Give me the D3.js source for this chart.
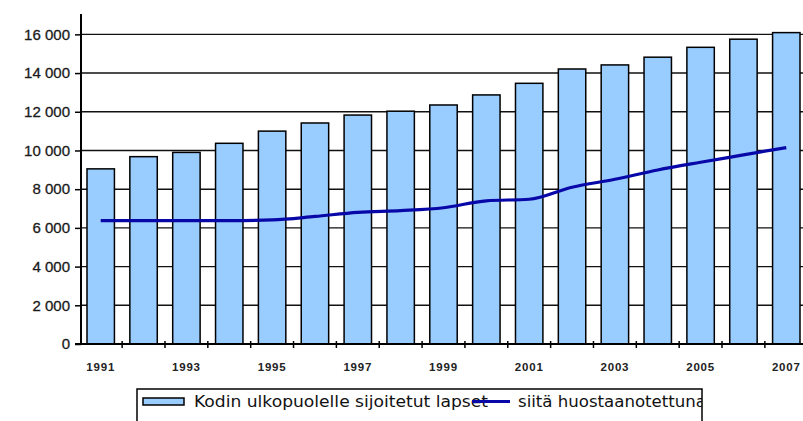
<!DOCTYPE html>
<html>
<head>
<meta charset="utf-8">
<script src="https://cdn.jsdelivr.net/npm/d3@7"></script>
<style>
  body { margin: 0; background: #fff; }
  svg { display: block; font-family: "Liberation Sans", Arial, sans-serif; }
</style>
</head>
<body>
<svg id="chart"></svg>
<script>
const years = [1991, 1992, 1993, 1994, 1995, 1996, 1997, 1998, 1999, 2000,
  2001, 2002, 2003, 2004, 2005, 2006, 2007];
const placed = [9050, 9680, 9900, 10370, 11000, 11420, 11830, 12030, 12350, 12870,
  13470, 14210, 14420, 14820, 15330, 15750, 16090];
const custody = [6370, 6370, 6370, 6370, 6410, 6590, 6800, 6890, 7040, 7400,
  7480, 8100, 8510, 8990, 9390, 9770, 10150];
const yTicks = [0, 2000, 4000, 6000, 8000, 10000, 12000, 14000, 16000];
const labelYears = [1991, 1993, 1995, 1997, 1999, 2001, 2003, 2005, 2007];
const legendLabels = ['Kodin ulkopuolelle sijoitetut lapset', 'siitä huostaanotettuna'];

const width = 803;
const height = 421;
const margin = { top: 15, right: 0, bottom: 77, left: 81 };
const bottom = height - margin.bottom; // 344

const svg = d3.select('#chart').attr('width', width).attr('height', height);

const x = d3.scaleBand()
  .domain(years)
  .range([margin.left, 806])
  .paddingInner(0.36)
  .paddingOuter(0.14);

const y = d3.scaleLinear()
  .domain([0, 17000])
  .range([bottom, margin.top]);

// gridlines
svg.append('g')
  .selectAll('line')
  .data(yTicks.filter(d => d > 0))
  .enter()
  .append('line')
  .attr('x1', margin.left).attr('x2', width)
  .attr('y1', d => y(d)).attr('y2', d => y(d))
  .attr('stroke', '#111').attr('stroke-width', 1.4);

// bars
svg.append('g')
  .selectAll('rect')
  .data(years)
  .enter()
  .append('rect')
  .attr('x', d => x(d))
  .attr('y', (d, i) => y(placed[i]))
  .attr('width', x.bandwidth())
  .attr('height', (d, i) => bottom - y(placed[i]))
  .attr('fill', '#99ccff')
  .attr('stroke', '#000')
  .attr('stroke-width', 1.5);

// y axis
const yAxis = svg.append('g')
  .attr('transform', `translate(${margin.left},0)`)
  .call(d3.axisLeft(y).tickValues(yTicks).tickSize(6).tickPadding(5)
    .tickFormat(d => d3.format(',')(d).replace(/,/g, ' ')));
yAxis.select('.domain').attr('d', `M0,${margin.top - 1}V${bottom}`).attr('stroke', '#000').attr('stroke-width', 2);
yAxis.selectAll('.tick line').attr('stroke', '#000').attr('stroke-width', 1.5);
yAxis.selectAll('.tick text')
  .attr('font-size', 15).attr('fill', '#1a1a1a')
  .attr('stroke', '#1a1a1a').attr('stroke-width', 0.3)
  .attr('font-family', '"Liberation Sans", Arial, sans-serif');

// x axis
const xg = svg.append('g');
xg.append('line')
  .attr('x1', margin.left - 6).attr('x2', width)
  .attr('y1', bottom).attr('y2', bottom)
  .attr('stroke', '#000').attr('stroke-width', 2);
xg.selectAll('.xt')
  .data(years.slice(0, -1))
  .enter()
  .append('line')
  .attr('x1', d => x(d) + x.step() - (x.step() - x.bandwidth()) / 2)
  .attr('x2', d => x(d) + x.step() - (x.step() - x.bandwidth()) / 2)
  .attr('y1', bottom - 3).attr('y2', bottom + 4)
  .attr('stroke', '#000').attr('stroke-width', 1.5);
xg.selectAll('.xl')
  .data(labelYears)
  .enter()
  .append('text')
  .attr('x', d => x(d) + x.bandwidth() / 2)
  .attr('y', 371)
  .attr('text-anchor', 'middle')
  .attr('font-size', 11.5)
  .attr('font-weight', 'bold')
  .attr('letter-spacing', 0.8)
  .attr('fill', '#222')
  .text(d => d);

// line series
const line = d3.line()
  .x((d, i) => x(years[i]) + x.bandwidth() / 2)
  .y(d => y(d))
  .curve(d3.curveMonotoneX);

svg.append('path')
  .datum(custody)
  .attr('d', line)
  .attr('fill', 'none')
  .attr('stroke', '#0808a8')
  .attr('stroke-width', 3.2);

// legend
const lg = svg.append('g');
const lx0 = 137, ly0 = 389, lx1 = 702;
lg.append('clipPath').attr('id', 'legclip')
  .append('rect').attr('x', lx0).attr('y', ly0).attr('width', lx1 - lx0).attr('height', 40);
lg.append('rect')
  .attr('x', lx0).attr('y', ly0).attr('width', lx1 - lx0).attr('height', 40)
  .attr('fill', '#fff').attr('stroke', '#000').attr('stroke-width', 1.5);
lg.append('rect')
  .attr('x', 143).attr('y', 398).attr('width', 41).attr('height', 7)
  .attr('fill', '#99ccff').attr('stroke', '#000').attr('stroke-width', 1.5);
lg.append('text')
  .attr('x', 194).attr('y', 407)
  .attr('font-family', '"DejaVu Sans", Verdana, sans-serif')
  .attr('font-size', 16).attr('fill', '#111')
  .attr('textLength', 294).attr('lengthAdjust', 'spacingAndGlyphs')
  .text(legendLabels[0]);
lg.append('line')
  .attr('x1', 472).attr('x2', 510).attr('y1', 401.5).attr('y2', 401.5)
  .attr('stroke', '#0808a8').attr('stroke-width', 3);
lg.append('text')
  .attr('clip-path', 'url(#legclip)')
  .attr('x', 518).attr('y', 407)
  .attr('font-family', '"DejaVu Sans", Verdana, sans-serif')
  .attr('font-size', 16).attr('fill', '#111')
  .attr('textLength', 188).attr('lengthAdjust', 'spacingAndGlyphs')
  .text(legendLabels[1]);
</script>
</body>
</html>
